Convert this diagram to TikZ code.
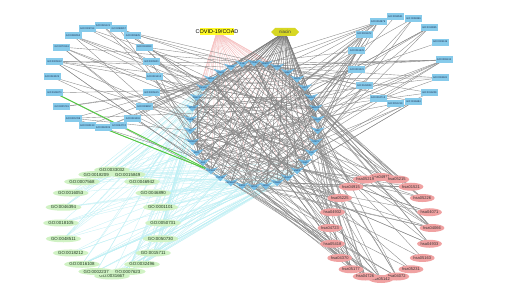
\documentclass[tikz,border=0pt]{standalone}
\usepackage{fontspec}
\setmainfont{Liberation Sans}
\usetikzlibrary{shapes.geometric}
\pgfdeclarelayer{bg}\pgfdeclarelayer{l0}\pgfdeclarelayer{l1}\pgfdeclarelayer{l2}
\pgfsetlayers{bg,l0,l1,l2,main}
\definecolor{bnode}{RGB}{135,203,235}
\definecolor{cnode}{RGB}{118,190,230}
\definecolor{btext}{RGB}{25,45,80}
\definecolor{pnodec}{RGB}{240,162,162}
\definecolor{gnodec}{RGB}{208,242,196}
\definecolor{gtext}{RGB}{35,60,35}
\definecolor{yel}{RGB}{255,250,40}
\definecolor{yelhex}{RGB}{215,215,35}
\definecolor{edgegray}{RGB}{140,140,140}
\definecolor{edgecyan}{RGB}{190,240,245}
\definecolor{edgepink}{RGB}{246,190,190}
\definecolor{edgegreen}{RGB}{80,205,60}
\begin{document}
\begin{tikzpicture}[x=1pt,y=-1pt,
  bbox/.style={rectangle,fill=bnode,minimum width=17,minimum height=7,inner sep=0.4,text=btext,font=\fontsize{2.5}{3}\selectfont},
  clab/.style={inner sep=0,text=btext,font=\fontsize{2.2}{2.6}\selectfont},
  gnode/.style={ellipse,fill=gnodec,minimum width=30,minimum height=7,inner sep=0,text=gtext,font=\fontsize{4.4}{5}\selectfont},
  pnode/.style={ellipse,fill=pnodec,minimum width=20,minimum height=8,inner sep=0,text=black!80,font=\fontsize{4}{4.5}\selectfont},
  gedge/.style={draw=edgegray,line width=0.38},
  cedge/.style={draw=edgecyan,line width=0.28},
  pedge/.style={draw=edgepink,line width=0.3},
  nedge/.style={draw=edgegray!85!black,line width=0.4},
  grnedge/.style={draw=edgegreen,line width=0.9}]
\begin{pgfonlayer}{bg}
\fill[white] (0,0) rectangle (520,302);
\end{pgfonlayer}
\useasboundingbox (0,0) rectangle (520,302);
\pgfmathsetseed{4242}

% top-left GO ring
\foreach \lab [count=\i] in {GO:0045121,GO:0098857,GO:0005925,GO:0031983,GO:0005901,GO:0031410,GO:0005615,GO:0009897,GO:0031091,GO:0034774,GO:0060205,GO:0030133,GO:0005788,GO:0005791,GO:0048471,GO:0043025,GO:0005912,GO:0070161,GO:0098552,GO:0005764}{
  \pgfmathsetmacro\ang{90-(\i-1)*18}
  \node[bbox] (a\i) at ({103+51*cos(\ang)},{77-51*sin(\ang)}) {\lab};
}
% top-right GO ring
\foreach \lab [count=\i] in {GO:0098531,GO:0004896,GO:0019955,GO:0005126,GO:0008134,GO:0004601,GO:0016209,GO:0016684,GO:0051219,GO:0004713,GO:0042803,GO:0001221,GO:0061629,GO:0004672,GO:0004879}{
  \pgfmathsetmacro\ang{96-(\i-1)*24}
  \node[bbox] (b\i) at ({400+44*cos(\ang)},{60-44*sin(\ang)}) {\lab};
}
% central targets
\foreach \lab [count=\i] in {PTGS2,NAMPT,HCAR2,NNMT,SIRT1,AKT1,MAPK1,MAPK3,EGFR,SRC,STAT3,JUN,CASP3,MMP9,VEGFA,PPARG,NOS2,NOS3,ESR1,HSP90AA1,CYP1A2,CYP3A4,ALB,MPO,ADORA1,F2,GSK3B,MTOR,PRKCA,PIK3CA,HIF1A,CCND1,ICAM1,IL1B}{
  \pgfmathsetmacro\ang{90-(\i-1)*360/34}
  \pgfmathsetmacro\px{254+64*cos(\ang)}
  \pgfmathsetmacro\py{125-62*sin(\ang)}
  \fill[cnode,shift={(\px,\py)}] (-7,-3.5) -- (0,-1.6) -- (7,-3.5) -- (0,3.5) -- cycle;
  \node[clab] (c\i) at (\px,\py) {\lab};
}
% green GO ring
\foreach \lab [count=\i] in {GO:0033032,GO:0015849,GO:0046942,GO:0046890,GO:0001101,GO:0050731,GO:0050730,GO:0015711,GO:0032496,GO:0007623,GO:0031667,GO:0002237,GO:0016108,GO:0018212,GO:0048511,GO:0018105,GO:0046394,GO:0016053,GO:0007568,GO:0018209}{
  \pgfmathsetmacro\ang{90-(\i-1)*18}
  \pgfmathsetmacro\rr{ifthenelse(\i==1 || \i==11,53,51)}
  \node[gnode] (g\i) at ({112+51*cos(\ang)},{223-\rr*sin(\ang)}) {\lab};
}
% KEGG ring
\foreach \lab [count=\i] in {hsa04971,hsa05215,hsa01521,hsa05226,hsa04071,hsa04066,hsa04933,hsa05163,hsa05231,hsa04072,hsa05142,hsa04726,hsa05177,hsa04370,hsa05418,hsa04723,hsa04932,hsa05225,hsa04915,hsa05219}{
  \pgfmathsetmacro\ang{90-(\i-1)*18}
  \node[pnode] (p\i) at ({381+51*cos(\ang)},{228-51*sin(\ang)}) {\lab};
}
% disease and drug
\fill[yel] (200,28.5) rectangle (234,35.5);
\node[inner sep=0.5,font=\fontsize{5.5}{6}\selectfont] (covid) at (217,32) {COVID-19/COAD};
\fill[yelhex] (271,32) -- (275,28) -- (295,28) -- (299,32) -- (295,36) -- (275,36) -- cycle;
\node[inner sep=0.5,text=black!75,font=\fontsize{4.5}{5}\selectfont] (niacin) at (285,32) {niacin};

% edges
\begin{pgfonlayer}{l0}
\foreach \i in {1,...,34}{\draw[pedge] (covid.center) -- (c\i.center);}
\foreach \k in {1,...,130}{
  \pgfmathrandominteger{\ia}{1}{20}
  \pgfmathrandominteger{\ib}{13}{32}
  \draw[cedge] (g\ia.center) -- (c\ib.center);
}
\end{pgfonlayer}
\begin{pgfonlayer}{l1}
\foreach \k in {1,...,80}{
  \pgfmathrandominteger{\ia}{1}{34}
  \pgfmathrandominteger{\ib}{1}{34}
  \draw[gedge] (c\ia.center) -- (c\ib.center);
}
\foreach \k in {1,...,60}{
  \pgfmathrandominteger{\ia}{1}{20}
  \pgfmathrandominteger{\ib}{1}{34}
  \draw[gedge] (a\ia.center) -- (c\ib.center);
}
\foreach \k in {1,...,60}{
  \pgfmathrandominteger{\ia}{1}{15}
  \pgfmathrandominteger{\ib}{1}{34}
  \draw[gedge] (b\ia.center) -- (c\ib.center);
}
\foreach \k in {1,...,100}{
  \pgfmathrandominteger{\ia}{1}{20}
  \pgfmathrandominteger{\ib}{1}{34}
  \draw[gedge] (p\ia.center) -- (c\ib.center);
}
\foreach \i in {1,...,34}{\draw[nedge] (niacin.center) -- (c\i.center);}
\end{pgfonlayer}
\begin{pgfonlayer}{l2}
\draw[grnedge] (a15.center) -- (c22.center);
\draw[grnedge] (a11.center) -- (c22.center);
\end{pgfonlayer}
\end{tikzpicture}
\end{document}
